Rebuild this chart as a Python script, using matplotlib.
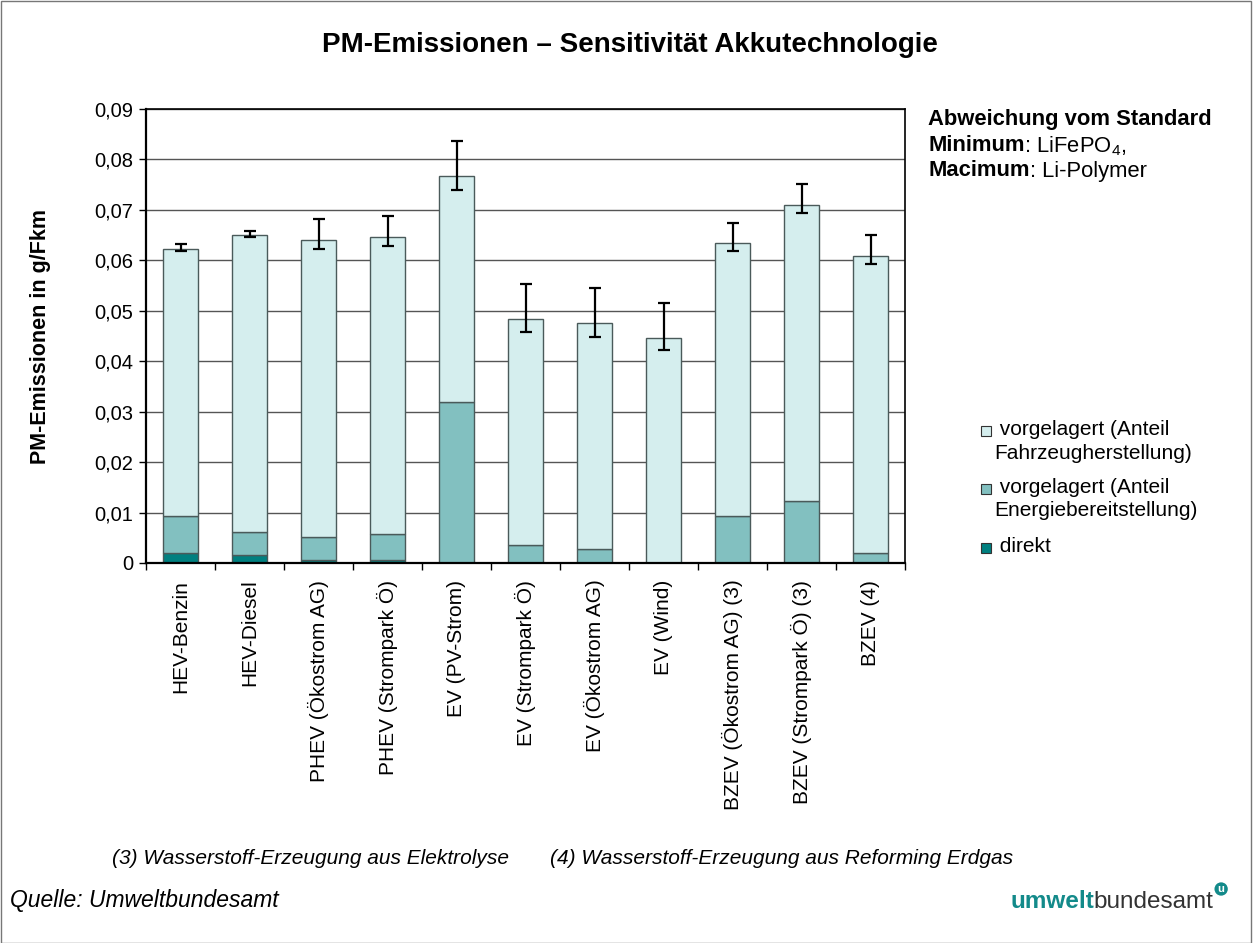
import numpy as np
import matplotlib
matplotlib.use("Agg")
import matplotlib.pyplot as plt
from matplotlib.patches import Rectangle

plt.rcParams['font.family'] = ['Liberation Sans', 'DejaVu Sans']
plt.rcParams['mathtext.fontset'] = 'custom'
plt.rcParams['mathtext.rm'] = 'Liberation Sans'

categories = ['HEV-Benzin', 'HEV-Diesel', 'PHEV (Ökostrom AG)', 'PHEV (Strompark Ö)',
              'EV (PV-Strom)', 'EV (Strompark Ö)', 'EV (Ökostrom AG)', 'EV (Wind)',
              'BZEV (Ökostrom AG) (3)', 'BZEV (Strompark Ö) (3)', 'BZEV (4)']
direkt = [0.0020, 0.0015, 0.0005, 0.0005, 0.0, 0.0, 0.0, 0.0, 0.0, 0.0, 0.0]
energie = [0.0074, 0.0046, 0.0046, 0.0052, 0.0319, 0.0036, 0.0028, 0.0, 0.0093, 0.0122, 0.0020]
fahrzeug = [0.0529, 0.0589, 0.0589, 0.0589, 0.0448, 0.0447, 0.0448, 0.0447, 0.0541, 0.0588, 0.0588]
err_max = [0.0632, 0.0659, 0.0681, 0.0687, 0.0836, 0.0553, 0.0545, 0.0516, 0.0675, 0.0752, 0.0650]
err_min = [0.0619, 0.0646, 0.0623, 0.0629, 0.0740, 0.0457, 0.0449, 0.0422, 0.0619, 0.0694, 0.0592]
yticks = [0, 0.01, 0.02, 0.03, 0.04, 0.05, 0.06, 0.07, 0.08, 0.09]
ytick_labels = ['0', '0,01', '0,02', '0,03', '0,04', '0,05', '0,06', '0,07', '0,08', '0,09']
legend_labels = [' vorgelagert (Anteil\nFahrzeugherstellung)',
                 ' vorgelagert (Anteil\nEnergiebereitstellung)',
                 ' direkt']

c_fz = '#d5eeee'
c_en = '#82c0c0'
c_di = '#008080'
edge = '#4a5a5a'
fs = 14.5

fig = plt.figure(figsize=(12.53, 9.43), dpi=100)
W, H = 1253.0, 943.0
ax = fig.add_axes([146 / W, 1 - 563 / H, 759 / W, 454 / H])

x = np.arange(len(categories))
direkt = np.array(direkt)
energie = np.array(energie)
fahrzeug = np.array(fahrzeug)
total = direkt + energie + fahrzeug

ax.set_axisbelow(True)
ax.grid(axis='y', color='#555555', linewidth=1.0)
ax.bar(x, direkt, 0.5, color=c_di, edgecolor=edge, linewidth=1)
ax.bar(x, energie, 0.5, bottom=direkt, color=c_en, edgecolor=edge, linewidth=1)
ax.bar(x, fahrzeug, 0.5, bottom=direkt + energie, color=c_fz, edgecolor=edge, linewidth=1)

lo = total - np.array(err_min)
hi = np.array(err_max) - total
ax.errorbar(x, total, yerr=[lo, hi], fmt='none', ecolor='black', elinewidth=1.6,
            capsize=4.6, capthick=1.6)

ax.set_xlim(-0.5, len(categories) - 0.5)
ax.set_ylim(0, 0.09)
ax.set_yticks(yticks)
ax.set_yticklabels(ytick_labels, fontsize=fs)
ax.set_xticks(x)
ax.set_xticklabels(categories, rotation=90, fontsize=15)
ax.set_xticks(np.arange(-0.5, len(categories)), minor=True)
ax.tick_params(axis='x', which='major', length=0, pad=12)
ax.tick_params(axis='x', which='minor', length=5, direction='out', width=1)
ax.tick_params(axis='y', length=5, direction='out', width=1, pad=4)
for s in ax.spines.values():
    s.set_color('black')
    s.set_linewidth(1.2)
ax.spines['left'].set_linewidth(1.6)
ax.spines['bottom'].set_linewidth(1.6)
ax.set_ylabel('PM-Emissionen in g/Fkm', fontsize=15.5, fontweight='bold')
ax.yaxis.set_label_coords(-0.125, 0.5)

fig.text(0.503, 0.952, 'PM-Emissionen – Sensitivität Akkutechnologie', ha='center', va='center',
         fontsize=20, fontweight='bold')

# legend drawn by hand so the squares sit on the first line of each label
leg_colors = [c_fz, c_en, c_di]
leg_y = [431, 489, 548]
for col, lab, yy in zip(leg_colors, legend_labels, leg_y):
    fig.patches.append(Rectangle((981 / W, 1 - (yy + 5) / H), 10 / W, 10 / H,
                                 transform=fig.transFigure, fc=col, ec='#333333', lw=0.8))
    fig.text(994 / W, 1 - (yy - 11) / H, lab, fontsize=15, va='top', linespacing=1.3)

# annotation on the right
renderer = fig.canvas.get_renderer()
ax_x = 928 / W
afs = 15.8
fig.text(ax_x, 1 - 120 / H, 'Abweichung vom Standard', fontsize=afs, fontweight='bold', va='center')
t1 = fig.text(ax_x, 1 - 146 / H, 'Minimum', fontsize=afs, fontweight='bold', va='center')
bb = t1.get_window_extent(renderer)
fig.text(bb.x1 / fig.bbox.width, 1 - 146 / H, ': LiFePO$_4$,', fontsize=afs, va='center')
t2 = fig.text(ax_x, 1 - 171 / H, 'Macimum', fontsize=afs, fontweight='bold', va='center')
bb = t2.get_window_extent(renderer)
fig.text(bb.x1 / fig.bbox.width, 1 - 171 / H, ': Li-Polymer', fontsize=afs, va='center')

fig.text(112 / W, 1 - 858 / H, '(3) Wasserstoff-Erzeugung aus Elektrolyse', fontsize=15,
         style='italic', va='center')
fig.text(550 / W, 1 - 858 / H, '(4) Wasserstoff-Erzeugung aus Reforming Erdgas', fontsize=15,
         style='italic', va='center')
fig.text(10 / W, 1 - 900 / H, 'Quelle: Umweltbundesamt', fontsize=16.5, style='italic', va='center')

# logo
t3 = fig.text(1010 / W, 1 - 902 / H, 'umwelt', fontsize=17.5, fontweight='bold', color='#138a8a',
              va='center')
bb = t3.get_window_extent(renderer)
t4 = fig.text(bb.x1 / W, 1 - 902 / H, 'bundesamt', fontsize=17.5, color='#333333', va='center')
bb = t4.get_window_extent(renderer)
fig.text(bb.x1 / W + 0.006, 1 - 889 / H, 'u', fontsize=8, color='white', fontweight='bold',
         ha='center', va='center',
         bbox=dict(boxstyle='circle,pad=0.15', fc='#138a8a', ec='none'))

fig.patches.append(Rectangle((0.0005, 0.0), 0.998, 0.999, transform=fig.transFigure,
                             fill=False, ec='#777777', lw=1.0))

fig.savefig('out.png', dpi=100, facecolor='white')
